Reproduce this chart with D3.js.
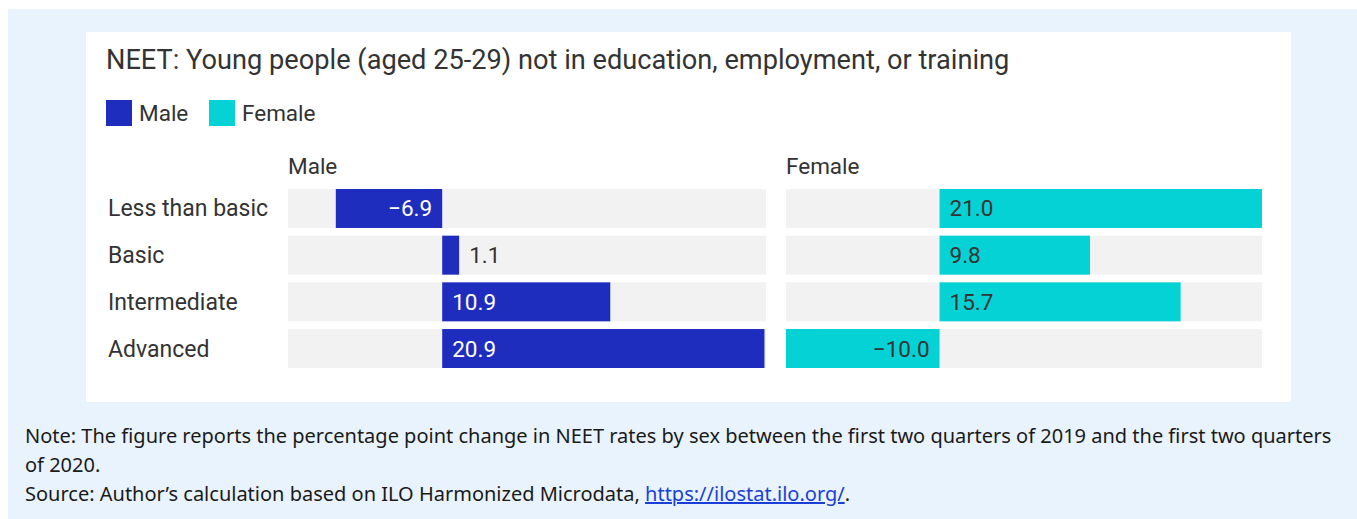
<!DOCTYPE html>
<html><head><meta charset="utf-8">
<script src="https://cdn.jsdelivr.net/npm/d3@7"></script>
<style>
body{margin:0;background:#fff;}
svg{display:block;}
</style></head>
<body>
<svg id="chart" width="1357" height="519"></svg>
<script>
const categories = ["Less than basic", "Basic", "Intermediate", "Advanced"];
const seriesNames = ["Male", "Female"];
const maleValues = [-6.9, 1.1, 10.9, 20.9];
const femaleValues = [21.0, 9.8, 15.7, -10.0];
const valueDomain = [-10, 21];
const title = "NEET: Young people (aged 25-29) not in education, employment, or training";
const noteLines = [
  "Note: The figure reports the percentage point change in NEET rates by sex between the first two quarters of 2019 and the first two quarters",
  "of 2020."
];
const sourceText = "Source: Author\u2019s calculation based on ILO Harmonized Microdata, ";
const sourceLink = "https://ilostat.ilo.org/";

const colors = {Male: "#1f2dbf", Female: "#04d2d4"};
const labelColors = {Male: "#ffffff", Female: "#333333"};
const svg = d3.select("#chart");
const FS = 22.5;

svg.append("rect").attr("x", 8).attr("y", 9).attr("width", 1349).attr("height", 510).attr("fill", "#e9f3fd");
svg.append("rect").attr("x", 86).attr("y", 32).attr("width", 1205).attr("height", 370).attr("fill", "#ffffff");

svg.append("text").attr("x", 106).attr("y", 69).attr("font-family", "Roboto").attr("font-size", 27.2)
  .attr("fill", "#333").text(title);

// legend
const leg = svg.append("g").attr("transform", "translate(106,100)");
seriesNames.forEach((s, i) => {
  const g = leg.append("g").attr("transform", `translate(${i === 0 ? 0 : 103},0)`);
  g.append("rect").attr("width", 26).attr("height", 26).attr("fill", colors[s]);
  g.append("text").attr("x", 33).attr("y", 21).attr("font-family", "Roboto").attr("font-size", FS)
    .attr("fill", "#333").text(s);
});

const y = d3.scaleBand().domain(categories).range([189, 368]).paddingInner(0.165).paddingOuter(0);

svg.selectAll("text.cat").data(categories).join("text").attr("class", "cat")
  .attr("x", 108).attr("y", d => y(d) + y.bandwidth() / 2 + 8)
  .attr("font-family", "Roboto").attr("font-size", 23).attr("fill", "#333").text(d => d);

const fmt = d3.format(".1f");
const panels = [
  {name: "Male", values: maleValues, x0: 288, x1: 766},
  {name: "Female", values: femaleValues, x0: 786, x1: 1262}
];
panels.forEach(p => {
  const x = d3.scaleLinear().domain(valueDomain).range([p.x0, p.x1]);
  const g = svg.append("g");
  g.append("text").attr("x", p.x0).attr("y", 174).attr("font-family", "Roboto").attr("font-size", FS)
    .attr("fill", "#333").text(p.name);
  const data = categories.map((c, i) => ({c, v: p.values[i]}));
  g.selectAll("rect.bg").data(data).join("rect").attr("class", "bg")
    .attr("x", p.x0).attr("width", p.x1 - p.x0).attr("y", d => y(d.c)).attr("height", y.bandwidth())
    .attr("fill", "#f2f2f2");
  g.selectAll("rect.bar").data(data).join("rect").attr("class", "bar")
    .attr("x", d => x(Math.min(0, d.v))).attr("width", d => Math.abs(x(d.v) - x(0)))
    .attr("y", d => y(d.c)).attr("height", y.bandwidth()).attr("fill", colors[p.name]);
  g.selectAll("text.val").data(data).join("text").attr("class", "val")
    .attr("font-family", "Roboto").attr("font-size", FS)
    .attr("y", d => y(d.c) + y.bandwidth() / 2 + 8)
    .each(function(d) {
      const w = Math.abs(x(d.v) - x(0));
      const inside = w > 50;
      const t = d3.select(this).text(fmt(d.v));
      if (d.v < 0) {
        t.attr("x", x(0) - 10).attr("text-anchor", "end");
      } else if (inside) {
        t.attr("x", x(0) + 10).attr("text-anchor", "start");
      } else {
        t.attr("x", x(d.v) + 10).attr("text-anchor", "start");
      }
      t.attr("fill", inside ? labelColors[p.name] : "#333");
    });
});

const notes = svg.append("g").attr("font-family", "Noto Sans").attr("font-size", 20).attr("fill", "#1a1a1a");
noteLines.forEach((l, i) => {
  notes.append("text").attr("x", 25).attr("y", 443 + i * 29).text(l);
});
const src = notes.append("text").attr("x", 25).attr("y", 501);
src.append("tspan").text(sourceText);
src.append("tspan").attr("fill", "#1a3fd9").attr("text-decoration", "underline").text(sourceLink);
src.append("tspan").text(".");
</script>
</body></html>
